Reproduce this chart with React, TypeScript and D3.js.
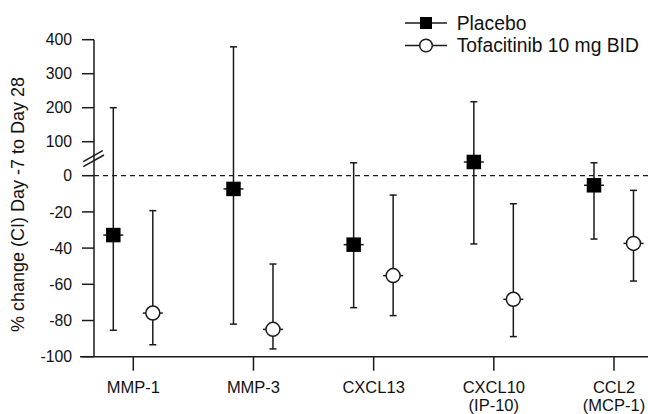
import React from "react";
import * as d3 from "d3";

const categories = ["MMP-1", "MMP-3", "CXCL13", "CXCL10", "CCL2"];
const categorySub = ["", "", "", "(IP-10)", "(MCP-1)"];
const placeboMean = [-32.8, -7.3, -38.1, 40.3, -5.3];
const placeboLow = [-85.4, -82, -72.9, -37.7, -35];
const placeboHigh = [200, 379, 38, 217.6, 38];
const tofaMean = [-75.9, -84.9, -55.2, -68.3, -37.4];
const tofaLow = [-93.4, -95.7, -77.3, -88.9, -58.2];
const tofaHigh = [-19.3, -48.8, -10.7, -15.5, -8.1];
const lowerTicks = [-100, -80, -60, -40, -20, 0];
const upperTicks = [100, 200, 300, 400];
const seriesNames = ["Placebo", "Tofacitinib 10 mg BID"];

const W = 648;
const H = 414;
const FONT = "'Liberation Sans', Arial, Helvetica, sans-serif";

export default function App() {
  const x = d3.scalePoint<string>().domain(categories).range([133.3, 614]);
  const yLow = d3.scaleLinear().domain([-100, 0]).range([356.7, 175.7]);
  const yUp = d3.scaleLinear().domain([0, 400]).range([175.7, 39.7]);
  const y = (v: number) => (v <= 0 ? yLow(v) : yUp(v));
  const axisX = 94;
  const offP = -20;
  const offT = 19.5;
  const stroke = "#1a1a1a";
  const sq = 14.5;

  const bar = (cx: number, lo: number, hi: number, mean: number, kind: "p" | "t", key: string) => (
    <g key={key}>
      <line x1={cx} x2={cx} y1={y(hi)} y2={y(lo)} stroke={stroke} strokeWidth={1.5} />
      <line x1={cx - 3.5} x2={cx + 3.5} y1={y(hi)} y2={y(hi)} stroke={stroke} strokeWidth={1.5} />
      <line x1={cx - 3.5} x2={cx + 3.5} y1={y(lo)} y2={y(lo)} stroke={stroke} strokeWidth={1.5} />
      <line x1={cx - 10} x2={cx + 10} y1={y(mean)} y2={y(mean)} stroke={stroke} strokeWidth={1.5} />
      {kind === "p" ? (
        <rect x={cx - sq / 2} y={y(mean) - sq / 2} width={sq} height={sq} fill="#000" />
      ) : (
        <circle cx={cx} cy={y(mean)} r={7} fill="#fff" stroke={stroke} strokeWidth={1.5} />
      )}
    </g>
  );

  return (
    <div style={{ position: "absolute", left: 0, top: 0 }}>
      <svg width={W} height={H} style={{ display: "block", background: "#fff" }} fontFamily={FONT}>
        <rect width={W} height={H} fill="#fff" />
        {/* zero reference */}
        <line x1={axisX} x2={W} y1={y(0)} y2={y(0)} stroke={stroke} strokeWidth={1.3} strokeDasharray="5,4" />
        {/* y axis */}
        <line x1={axisX} x2={axisX} y1={yUp(400)} y2={yLow(-100)} stroke={stroke} strokeWidth={1.5} />
        {lowerTicks.map((t) => (
          <g key={"l" + t}>
            <line x1={82} x2={axisX} y1={yLow(t)} y2={yLow(t)} stroke={stroke} strokeWidth={1.5} />
            <text x={72} y={yLow(t)} dy="0.36em" textAnchor="end" fontSize={15.8} fill="#111">{t}</text>
          </g>
        ))}
        {upperTicks.map((t) => (
          <g key={"u" + t}>
            <line x1={82} x2={axisX} y1={yUp(t)} y2={yUp(t)} stroke={stroke} strokeWidth={1.5} />
            <text x={72} y={yUp(t)} dy="0.36em" textAnchor="end" fontSize={15.8} fill="#111">{t}</text>
          </g>
        ))}
        {/* axis break */}
        <line x1={83.3} y1={161.7} x2={102.7} y2={150.7} stroke={stroke} strokeWidth={1.5} />
        <line x1={83.3} y1={166.7} x2={104} y2={155} stroke={stroke} strokeWidth={1.5} />
        {/* x axis */}
        <line x1={80} x2={W} y1={yLow(-100)} y2={yLow(-100)} stroke={stroke} strokeWidth={1.5} />
        {categories.map((c, i) => (
          <g key={"x" + c}>
            <line x1={x(c)!} x2={x(c)!} y1={yLow(-100)} y2={yLow(-100) + 14} stroke={stroke} strokeWidth={1.5} />
            <text x={x(c)!} y={393.3} textAnchor="middle" fontSize={16.5} fill="#111">{c}</text>
            {categorySub[i] && (
              <text x={x(c)!} y={410.5} textAnchor="middle" fontSize={16.5} fill="#111">{categorySub[i]}</text>
            )}
          </g>
        ))}
        {/* y title */}
        <text transform={`translate(24,204.5) rotate(-90)`} textAnchor="middle" fontSize={18} fill="#111">
          % change (CI) Day -7 to Day 28
        </text>
        {/* data */}
        {categories.map((c, i) => bar(x(c)! + offP, placeboLow[i], placeboHigh[i], placeboMean[i], "p", "p" + c))}
        {categories.map((c, i) => bar(x(c)! + offT, tofaLow[i], tofaHigh[i], tofaMean[i], "t", "t" + c))}
        {/* legend */}
        <g>
          <line x1={405} x2={447} y1={23} y2={23} stroke={stroke} strokeWidth={1.5} />
          <rect x={426 - 6} y={23 - 6} width={12} height={12} fill="#000" />
          <text x={456.7} y={29.5} fontSize={19.3} fill="#111">{seriesNames[0]}</text>
          <line x1={405} x2={447} y1={45.5} y2={45.5} stroke={stroke} strokeWidth={1.5} />
          <circle cx={426} cy={45.5} r={6.3} fill="#fff" stroke={stroke} strokeWidth={1.5} />
          <text x={456.7} y={52} fontSize={19.3} fill="#111">{seriesNames[1]}</text>
        </g>
      </svg>
    </div>
  );
}
